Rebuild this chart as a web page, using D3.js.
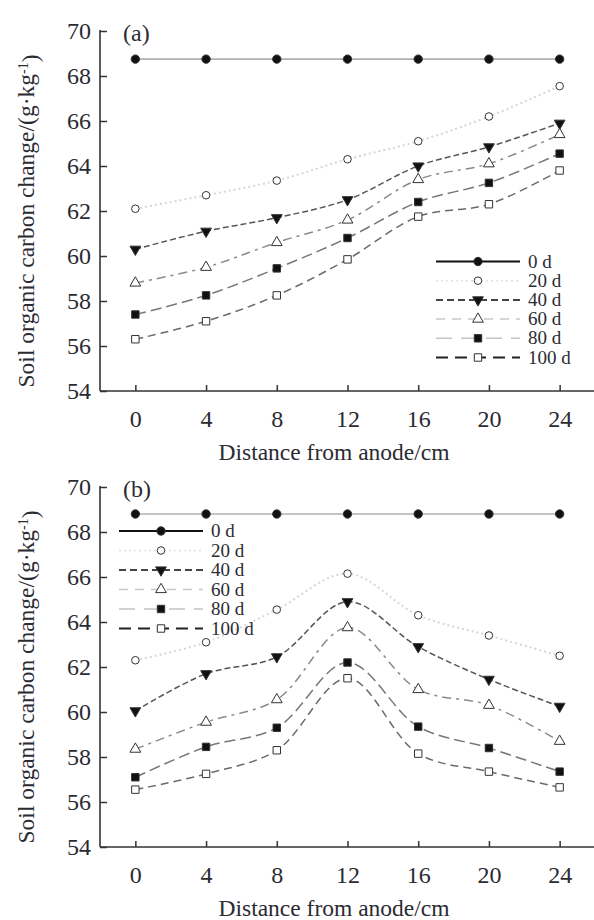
<!DOCTYPE html>
<html>
<head>
<meta charset="utf-8">
<script src="https://cdn.jsdelivr.net/npm/d3@7"></script>
<style>
    body { margin: 0; background: #fff; }
    text { font-family: "Liberation Serif", "DejaVu Serif", serif; fill: #2b2b33; }
</style>
</head>
<body>
<div id="chart"></div>
<script>
// global sizes
const width = 594;
const height = 920;
const axisLeftX = 100;
const plotHeight = 360;

// data
const distances = [0, 4, 8, 12, 16, 20, 24];
const seriesNames = ["0 d", "20 d", "40 d", "60 d", "80 d", "100 d"];
const yTicks = [54, 56, 58, 60, 62, 64, 66, 68, 70];

// panel (a)
const a0d = [68.75, 68.75, 68.75, 68.75, 68.75, 68.75, 68.75];
const a20d = [62.1, 62.7, 63.35, 64.3, 65.1, 66.2, 67.55];
const a40d = [60.3, 61.1, 61.7, 62.5, 64.0, 64.85, 65.9];
const a60d = [58.8, 59.5, 60.6, 61.6, 63.4, 64.1, 65.4];
const a80d = [57.4, 58.25, 59.45, 60.8, 62.4, 63.25, 64.55];
const a100d = [56.3, 57.1, 58.25, 59.85, 61.75, 62.3, 63.8];

// panel (b)
const b0d = [68.8, 68.8, 68.8, 68.8, 68.8, 68.8, 68.8];
const b20d = [62.3, 63.1, 64.55, 66.15, 64.3, 63.4, 62.5];
const b40d = [60.05, 61.7, 62.45, 64.9, 62.9, 61.45, 60.25];
const b60d = [58.35, 59.55, 60.55, 63.75, 61.0, 60.3, 58.7];
const b80d = [57.1, 58.45, 59.3, 62.2, 59.35, 58.4, 57.35];
const b100d = [56.55, 57.25, 58.3, 61.5, 58.15, 57.35, 56.65];

// line + marker styles, one per series (plot and legend differ a bit)
const styles = [
    { symbol: d3.symbolCircle, rot: 0, fill: "#111", size: 55, plotStroke: "#b0b0b0", plotDash: null, plotW: 1.6, legStroke: "#111", legDash: null, legW: 2 },
    { symbol: d3.symbolCircle, rot: 0, fill: "#fff", size: 45, plotStroke: "#d6d6d6", plotDash: "2,3", plotW: 2, legStroke: "#e0e0e0", legDash: "2,3", legW: 1.5 },
    { symbol: d3.symbolTriangle, rot: 180, fill: "#111", size: 50, plotStroke: "#555", plotDash: "6,3", plotW: 1.5, legStroke: "#444", legDash: "7,4", legW: 2 },
    { symbol: d3.symbolTriangle, rot: 0, fill: "#fff", size: 50, plotStroke: "#8a8a8a", plotDash: "9,5,3,5", plotW: 1.5, legStroke: "#c8c8c8", legDash: "9,7", legW: 1.5 },
    { symbol: d3.symbolSquare, rot: 0, fill: "#111", size: 55, plotStroke: "#777", plotDash: "11,5", plotW: 1.5, legStroke: "#c4c4c4", legDash: "16,9", legW: 1.5 },
    { symbol: d3.symbolSquare, rot: 0, fill: "#fff", size: 55, plotStroke: "#6a6a6a", plotDash: "8,5", plotW: 1.5, legStroke: "#222", legDash: "12,7", legW: 2 }
];

var svg = d3.select("#chart")
    .append("svg")
    .attr("width", width)
    .attr("height", height);

svg.append("rect").attr("width", width).attr("height", height).attr("fill", "#fff");

drawPanel(31, "(a)", [a0d, a20d, a40d, a60d, a80d, a100d], { x: 436, y: 261.5, step: 19.2 });
drawPanel(487, "(b)", [b0d, b20d, b40d, b60d, b80d, b100d], { x: 119, y: 531, step: 19.5 });

function drawPanel(top, label, values, legend) {
    var g = svg.append("g");

    var xScale = d3.scaleLinear()
        .domain([-2, 26])
        .range([axisLeftX, 595]);

    var yScale = d3.scaleLinear()
        .domain([54, 70])
        .range([top + plotHeight, top]);

    /////////////////////////
    // create and add axes //
    /////////////////////////

    var xAxis = d3.axisBottom(xScale)
        .tickValues(distances)
        .tickSize(-6)
        .tickPadding(14);

    var yAxis = d3.axisLeft(yScale)
        .tickValues(yTicks)
        .tickSize(-7)
        .tickPadding(9);

    var gx = g.append("g")
        .attr("transform", "translate(0," + (top + plotHeight) + ")")
        .call(xAxis);

    var gy = g.append("g")
        .attr("transform", "translate(" + axisLeftX + ",0)")
        .call(yAxis);

    [gx, gy].forEach((ax) => {
        ax.select(".domain").attr("stroke", "#333").attr("stroke-width", 1.6);
        ax.selectAll(".tick line").attr("stroke", "#333").attr("stroke-width", 1.5);
        ax.selectAll(".tick text")
            .style("font-family", "Liberation Serif, serif")
            .style("font-size", "24px")
            .attr("fill", "#2b2b33");
    });
    gx.select(".domain").attr("d", "M" + axisLeftX + ",0H595");
    gx.selectAll(".tick text").attr("dy", "0.9em");
    gy.select(".domain").attr("d", "M0," + (top + plotHeight) + "V" + (top - 1) + "");

    // panel label
    g.append("text")
        .attr("x", 123)
        .attr("y", top + 10)
        .style("font-size", "24px")
        .text(label);

    // x axis title
    g.append("text")
        .attr("x", 334)
        .attr("y", top + plotHeight + 69)
        .attr("text-anchor", "middle")
        .style("font-size", "23.5px")
        .text("Distance from anode/cm");

    // y axis title
    var yt = g.append("text")
        .attr("transform", "translate(34," + (top + plotHeight / 2 + 10) + ") rotate(-90)")
        .attr("text-anchor", "middle")
        .style("font-size", "23.5px");
    yt.append("tspan").text("Soil organic carbon change/(g\u00b7kg");
    yt.append("tspan").attr("dy", "-0.45em").style("font-size", "14px").text("-1");
    yt.append("tspan").attr("dy", "0.45em").text(")");

    ////////////////////////////
    // create and add lines  //
    ///////////////////////////

    var line = d3.line()
        .x((d, i) => xScale(distances[i]))
        .y((d) => yScale(d))
        .curve(d3.curveCatmullRom.alpha(0.5));

    values.forEach((vals, s) => {
        var st = styles[s];
        g.append("path")
            .datum(vals)
            .attr("fill", "none")
            .attr("stroke", st.plotStroke)
            .attr("stroke-width", st.plotW)
            .attr("stroke-dasharray", st.plotDash)
            .attr("d", line);
    });

    values.forEach((vals, s) => {
        var st = styles[s];
        g.append("g").selectAll("path")
            .data(vals)
            .enter()
            .append("path")
            .attr("d", d3.symbol().type(st.symbol).size(st.size))
            .attr("transform", (d, i) => "translate(" + xScale(distances[i]) + "," + yScale(d) + ") rotate(" + st.rot + ")")
            .attr("fill", st.fill)
            .attr("stroke", "#333")
            .attr("stroke-width", 1);
    });

    ////////////////////
    // add the legend //
    ////////////////////
    var leg = g.append("g");
    seriesNames.forEach((name, s) => {
        var st = styles[s];
        var ly = legend.y + s * legend.step;
        leg.append("line")
            .attr("x1", legend.x)
            .attr("x2", legend.x + 84)
            .attr("y1", ly)
            .attr("y2", ly)
            .attr("stroke", st.legStroke)
            .attr("stroke-width", st.legW)
            .attr("stroke-dasharray", st.legDash);
        leg.append("path")
            .attr("d", d3.symbol().type(st.symbol).size(st.size))
            .attr("transform", "translate(" + (legend.x + 42) + "," + ly + ") rotate(" + st.rot + ")")
            .attr("fill", st.fill)
            .attr("stroke", "#333")
            .attr("stroke-width", 1);
        leg.append("text")
            .attr("x", legend.x + 92)
            .attr("y", ly + 6)
            .style("font-size", "19px")
            .text(name);
    });
}
</script>
</body>
</html>
